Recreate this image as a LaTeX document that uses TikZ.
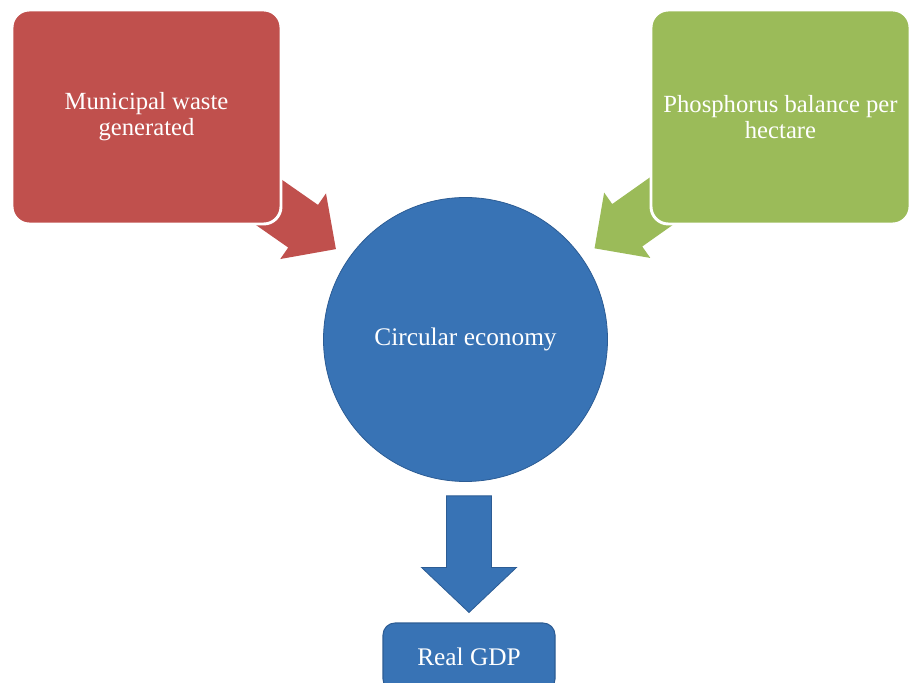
\documentclass[tikz,border=0pt]{standalone}
\usepackage{fontspec}
\setmainfont{Liberation Serif}
\usetikzlibrary{calc}
\definecolor{WasteClr}{RGB}{192,80,77}
\definecolor{PhosClr}{RGB}{155,187,89}
\definecolor{EconClr}{RGB}{56,115,181}
\definecolor{EconLineClr}{RGB}{44,92,148}

\tikzset{
  card/.style={rounded corners=13pt,draw=white,line width=2.2pt,align=center,
    text=white,font=\fontsize{18.5}{19.5}\selectfont,inner sep=0pt},
}
% fat arrow: style, from, to, shaft half width, head half width, head length
\newcommand{\fatarrow}[6]{%
  \path ($(#3)!#6!(#2)$) coordinate (fa-h);
  \filldraw[#1] ($(#2)!#4!90:(#3)$) -- ($(fa-h)!#4!90:(#3)$) -- ($(fa-h)!#5!90:(#3)$)
    -- (#3) -- ($(fa-h)!#5!-90:(#3)$) -- ($(fa-h)!#4!-90:(#3)$) -- ($(#2)!#4!-90:(#3)$) -- cycle;}

\begin{document}
\begin{tikzpicture}[x=0.75pt,y=0.75pt]
\useasboundingbox (0,0) rectangle (910,682);

\node[circle,fill=EconClr,draw=EconLineClr,line width=0.6pt,minimum size=213pt,
  text=white,font=\fontsize{19}{20}\selectfont] (ce) at (465.5,342.5) {Circular economy};
\node[card,fill=EconClr,draw=EconLineClr,line width=0.8pt,rounded corners=9pt,
  minimum width=129pt,minimum height=51pt,font=\fontsize{19}{20}\selectfont] (gdp) at (469,25) {Real GDP};

\coordinate (mw) at (146.5,565);
\coordinate (ph) at (780.5,565);
\coordinate (mwtip) at ($(ce.center)!118.5pt!(mw)$);
\coordinate (phtip) at ($(ce.center)!118.5pt!(ph)$);
\coordinate (gdptail) at ($(gdp.north |- ce.south)+(0,-14)$);
\coordinate (gdptip) at ($(gdp.north)+(0,10)$);

\fatarrow{WasteClr,draw=none}{mw}{mwtip}{19.5pt}{30pt}{30pt}
\fatarrow{PhosClr,draw=none}{ph}{phtip}{19.5pt}{30pt}{30pt}
\fatarrow{EconClr,draw=EconLineClr,line width=0.6pt}{gdptail}{gdptip}{16.9pt}{35.6pt}{33.75pt}

\node[card,fill=WasteClr,minimum width=201.75pt,minimum height=160.5pt] (mwbox) at (mw)
  {Municipal waste\\generated};
\node[card,fill=PhosClr,minimum width=194.25pt,minimum height=160.5pt] (phbox) at (ph)
  {Phosphorus balance per\\hectare};

\end{tikzpicture}
\end{document}
